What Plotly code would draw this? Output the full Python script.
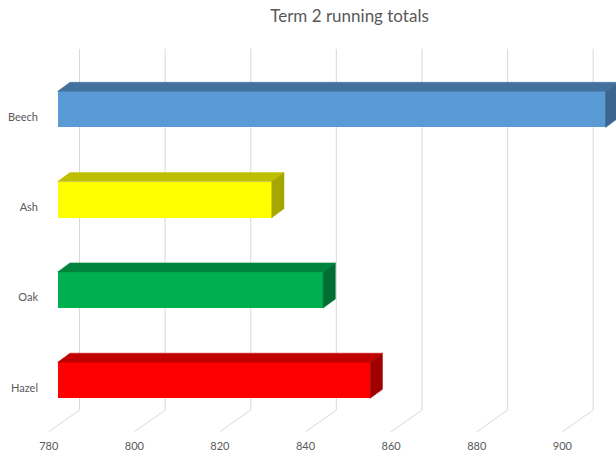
import plotly.graph_objects as go

# ---- data ----
categories = ["Beech", "Ash", "Oak", "Hazel"]
values = [908, 830, 842, 853]
x_ticks = [780, 800, 820, 840, 860, 880, 900]
base_value = 780

front_colors = ["#5B9BD5", "#FFFF00", "#00B050", "#FF0000"]
top_colors = ["#41719C", "#BFBF00", "#00843D", "#C00000"]
side_colors = ["#3A6690", "#A6A600", "#006E32", "#A00000"]

# ---- geometry (style constants, in axis units) ----
n = len(categories)
positions = [n - 1 - i for i in range(n)]  # Beech on top
bar_w = 0.40
depth_dx = 2.87     # bar depth, x units
depth_dy = 0.10     # bar depth, y units
back_dx = 5.1       # back wall offset
front_dx = -2.1     # floor front offset
y_wall_top = 3.67
y_floor_back = -0.33
y_floor_front = -0.57

fig = go.Figure()

# front faces
fig.add_trace(go.Bar(
    y=positions, x=[v - base_value for v in values], base=base_value,
    orientation="h", width=bar_w,
    marker=dict(color=front_colors, line=dict(width=0)),
    hoverinfo="skip", showlegend=False,
))

# top and side faces
for i, v in enumerate(values):
    yc = positions[i]
    yt = yc + bar_w / 2
    yb = yc - bar_w / 2
    fig.add_trace(go.Scatter(
        x=[base_value, base_value + depth_dx, v + depth_dx, v, base_value],
        y=[yt, yt + depth_dy, yt + depth_dy, yt, yt],
        fill="toself", fillcolor=top_colors[i], mode="lines",
        line=dict(color=top_colors[i], width=0.5),
        hoverinfo="skip", showlegend=False,
    ))
    fig.add_trace(go.Scatter(
        x=[v, v + depth_dx, v + depth_dx, v, v],
        y=[yt, yt + depth_dy, yb + depth_dy, yb, yt],
        fill="toself", fillcolor=side_colors[i], mode="lines",
        line=dict(color=side_colors[i], width=0.5),
        hoverinfo="skip", showlegend=False,
    ))

# back wall gridlines + floor diagonals
shapes = []
for t in x_ticks:
    path = (f"M {t + back_dx},{y_wall_top} L {t + back_dx},{y_floor_back} "
            f"L {t + front_dx},{y_floor_front}")
    shapes.append(dict(type="path", path=path, xref="x", yref="y",
                       line=dict(color="#D9D9D9", width=1), layer="below"))

font_family = "Lato, 'Open Sans', sans-serif"
fig.update_layout(
    width=616, height=454,
    margin=dict(l=39, r=0, t=0, b=22, autoexpand=False),
    paper_bgcolor="white", plot_bgcolor="white",
    shapes=shapes,
    title=dict(text="Term 2 running totals", x=349.5 / 616, xref="container",
               xanchor="center", y=1 - 16 / 454, yref="container", yanchor="middle",
               font=dict(family=font_family, size=17, color="#595959")),
    xaxis=dict(range=[775.63, 910.44], showgrid=False, zeroline=False, showline=False,
               automargin=False, ticklabelstandoff=6,
               tickmode="array", tickvals=[t + front_dx for t in x_ticks],
               ticktext=[str(t) for t in x_ticks], ticks="",
               tickfont=dict(family=font_family, size=11, color="#595959")),
    yaxis=dict(range=[-0.5725, 4.211], showgrid=False, zeroline=False, showline=False,
               automargin=False,
               tickmode="array", tickvals=[p - 0.083 for p in positions],
               ticktext=categories, ticks="",
               tickfont=dict(family=font_family, size=11, color="#595959")),
    bargap=0,
)

fig.write_html("out.html", config={"displayModeBar": False},
               post_script="document.body.style.margin='0';document.body.style.overflow='hidden';")
